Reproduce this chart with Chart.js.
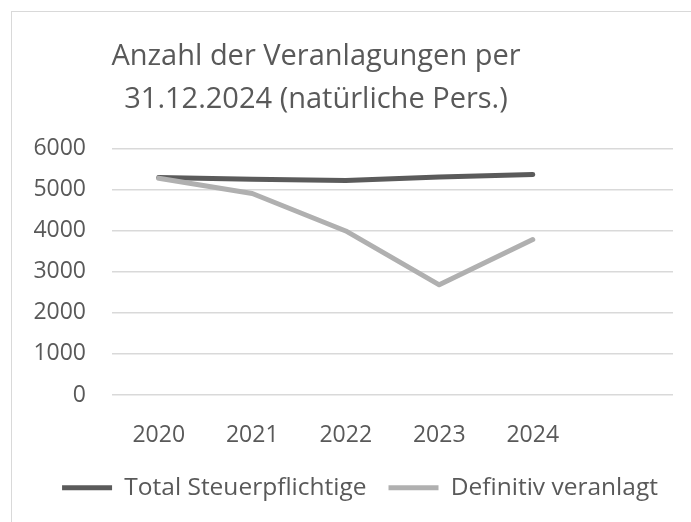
<!DOCTYPE html>
<html>
<head>
<meta charset="utf-8">
<script src="https://cdn.jsdelivr.net/npm/chart.js@4"></script>
<style>
  html, body { margin: 0; padding: 0; background: #fff; }
  #wrap { position: relative; width: 691px; height: 522px; overflow: hidden; }
  #frame { position: absolute; left: 11px; top: 11px; width: 700px; height: 530px;
           border-top: 1px solid #d9d9d9; border-left: 1px solid #d9d9d9; }
  canvas { position: absolute; left: 0; top: 0; }
</style>
</head>
<body>
<div id="wrap">
  <div id="frame"></div>
  <canvas id="veranlagungenChart" width="691" height="522"></canvas>
</div>
<script>
// Daten
const jahre = ['2020', '2021', '2022', '2023', '2024', ''];
const totalSteuerpflichtige = [5290, 5250, 5215, 5300, 5365];
const definitivVeranlagt = [5270, 4900, 3990, 2680, 3780];
const yTicks = [0, 1000, 2000, 3000, 4000, 5000, 6000];

const textFarbe = '#595959';
const schrift = '"Open Sans", "DejaVu Sans", sans-serif';

// Titel und Legende horizontal so setzen wie im Original
const boxenVerschieben = {
    id: 'boxenVerschieben',
    afterLayout(chart) {
        const t = chart.titleBlock;
        const dt = 316 - (t.left + t.right) / 2;
        t.left += dt;
        t.right += dt;
        const l = chart.legend;
        const dl = 360 - (l.left + l.right) / 2;
        l.left += dl;
        l.right += dl;
    }
};

const ctx = document.getElementById('veranlagungenChart').getContext('2d');

new Chart(ctx, {
    type: 'line',
    data: {
        labels: jahre,
        datasets: [{
            label: 'Total Steuerpflichtige',
            data: totalSteuerpflichtige,
            borderColor: '#5b5b5b',
            backgroundColor: '#5b5b5b',
            borderWidth: 5,
            borderCapStyle: 'round',
            borderJoinStyle: 'round',
            pointRadius: 0,
            tension: 0,
            order: 1
        }, {
            label: 'Definitiv veranlagt',
            data: definitivVeranlagt,
            borderColor: '#b0b0b0',
            backgroundColor: '#b0b0b0',
            borderWidth: 5,
            borderCapStyle: 'round',
            borderJoinStyle: 'round',
            pointRadius: 0,
            tension: 0,
            order: 0
        }]
    },
    options: {
        responsive: false,
        animation: false,
        devicePixelRatio: 1,
        layout: {
            padding: { top: 10, left: 20, right: 18, bottom: 12 }
        },
        plugins: {
            title: {
                display: true,
                text: ['Anzahl der Veranlagungen per', '31.12.2024 (natürliche Pers.)'],
                color: textFarbe,
                font: { family: schrift, size: 29, weight: 'normal', lineHeight: 1.483 },
                padding: { top: 25.5, bottom: 26.8 }
            },
            legend: {
                position: 'bottom',
                labels: {
                    usePointStyle: true,
                    pointStyle: 'line',
                    pointStyleWidth: 50,
                    color: textFarbe,
                    font: { family: schrift, size: 24.5 },
                    padding: 22,
                    sort: (a, b) => a.datasetIndex - b.datasetIndex
                }
            },
            tooltip: { enabled: false }
        },
        scales: {
            x: {
                offset: true,
                grid: { display: false, drawTicks: false },
                border: { display: false },
                ticks: {
                    color: textFarbe,
                    font: { family: schrift, size: 23 },
                    padding: 27,
                    maxRotation: 0,
                    autoSkip: false
                },
                afterFit(scale) { scale.height = 58.5; }
            },
            y: {
                min: 0,
                max: 6000,
                grid: { color: '#d9d9d9', lineWidth: 1.5, drawTicks: false },
                border: { display: false },
                afterBuildTicks(scale) { scale.ticks = yTicks.map(v => ({ value: v })); },
                ticks: {
                    color: textFarbe,
                    font: { family: schrift, size: 23 },
                    padding: 26,
                    callback: (v) => String(v)
                },
                afterFit(scale) { scale.width = 92; }
            }
        }
    },
    plugins: [boxenVerschieben]
});
</script>
</body>
</html>
